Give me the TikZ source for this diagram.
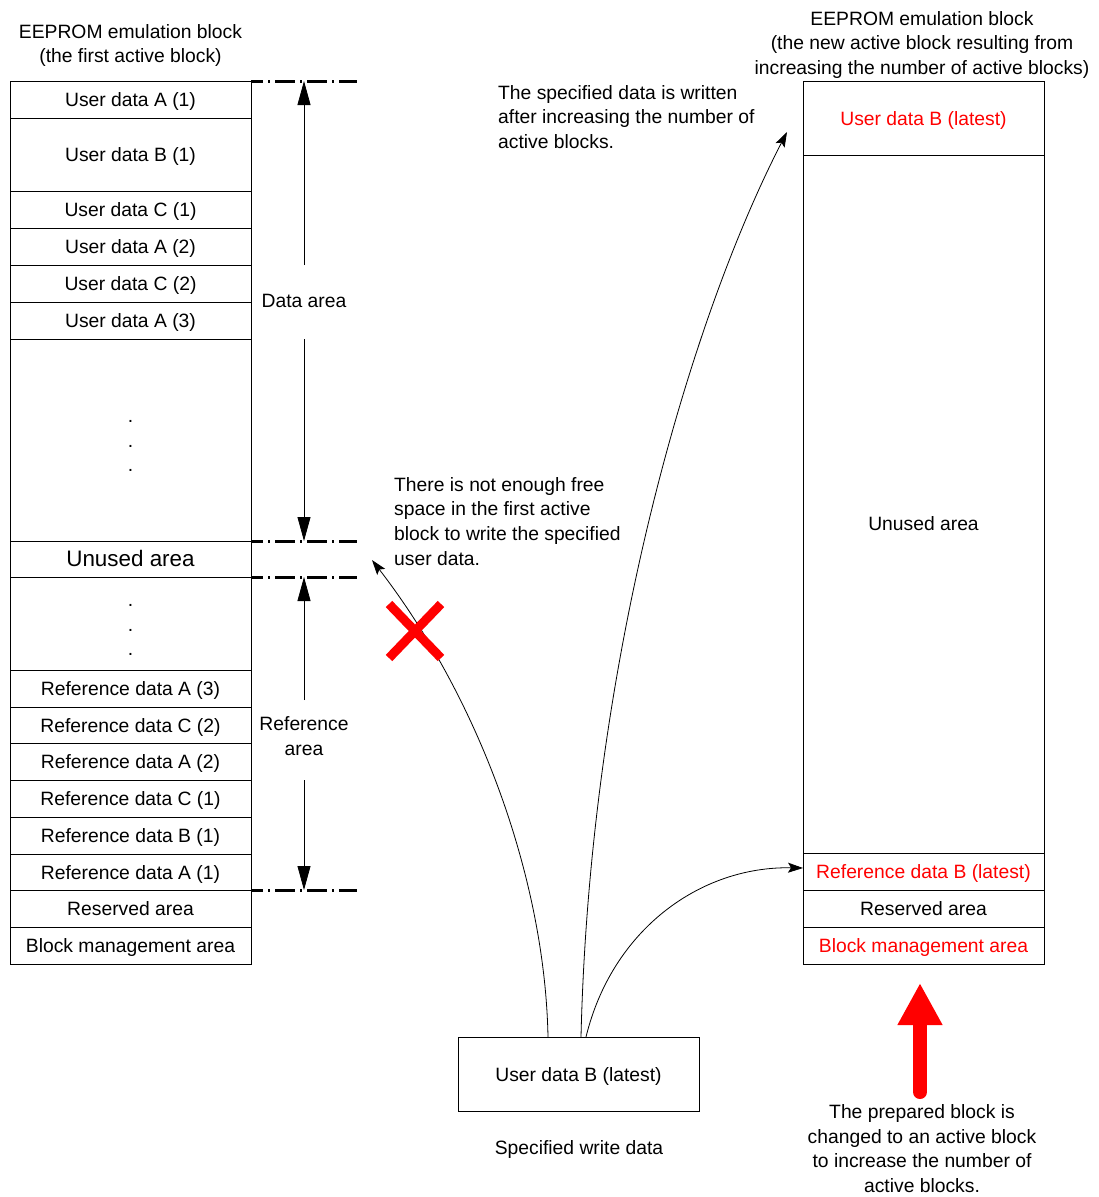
\documentclass[tikz,border=0pt]{standalone}
\usepackage{fontspec}
\setmainfont{Liberation Sans}
\usetikzlibrary{arrows.meta}
\definecolor{myred}{RGB}{255,0,0}
\begin{document}
\begin{tikzpicture}[x=1pt,y=-1pt,
  every node/.style={font=\fontsize{19.3}{24.8}\selectfont},
  cell/.style={draw, line width=0.9pt, minimum width=241pt, inner sep=0pt, anchor=center, text height=18pt, text depth=4pt},
  ddline/.style={line width=3pt, dash pattern=on 20pt off 5pt on 2pt off 5pt, dash phase=8pt},
  dimarrow/.style={line width=0.8pt, -{Triangle[length=24pt,width=13pt]}},
  curvearrow/.style={line width=0.8pt, -{Stealth[length=15pt,width=10pt,inset=3pt]}},
  note/.style={align=left, inner sep=0pt, anchor=north west},
  cnote/.style={align=center, inner sep=0pt, anchor=north}]
\useasboundingbox (0,0) rectangle (1099,1197);

% ---- left block
\node[cnote] (ltitle) at (130.5,24) {EEPROM emulation block\\(the first active block)};
\node[cell, minimum height=37pt] (la1) at (130.5,99.5) {User data A (1)};
\node[cell, minimum height=73pt] (lb1) at (130.5,154.5) {User data B (1)};
\node[cell, minimum height=37pt] (lc1) at (130.5,209.5) {User data C (1)};
\node[cell, minimum height=37pt] (la2) at (130.5,246.5) {User data A (2)};
\node[cell, minimum height=37pt] (lc2) at (130.5,283.5) {User data C (2)};
\node[cell, minimum height=37pt] (la3) at (130.5,320.5) {User data A (3)};
\node[cell, minimum height=202pt] (ldots1) at (130.5,440) {};
\node[align=center, inner sep=0pt] (ldt1) at (130.5,446) {.\\.\\.};
\node[cell, minimum height=36pt, font=\fontsize{22.4}{26}\selectfont] (lunused) at (130.5,559) {Unused area};
\node[cell, minimum height=93pt] (ldots2) at (130.5,623.5) {};
\node[align=center, inner sep=0pt] (ldt2) at (130.5,630) {.\\.\\.};
\node[cell, minimum height=37pt] (rfa3) at (130.5,688.5) {Reference data A (3)};
\node[cell, minimum height=36pt] (rfc2) at (130.5,725) {Reference data C (2)};
\node[cell, minimum height=37pt] (rfa2) at (130.5,761.5) {Reference data A (2)};
\node[cell, minimum height=37pt] (rfc1) at (130.5,798.5) {Reference data C (1)};
\node[cell, minimum height=37pt] (rfb1) at (130.5,835.5) {Reference data B (1)};
\node[cell, minimum height=36pt] (rfa1) at (130.5,872) {Reference data A (1)};
\node[cell, minimum height=37pt] (lres) at (130.5,908.5) {Reserved area};
\node[cell, minimum height=37pt] (lbm) at (130.5,945.5) {Block management area};

% dash-dot boundary lines
\coordinate (d1a) at (251,81);  \coordinate (d1b) at (357,81);
\coordinate (d2a) at (251,541); \coordinate (d2b) at (357,541);
\coordinate (d3a) at (251,577); \coordinate (d3b) at (357,577);
\coordinate (d4a) at (251,890); \coordinate (d4b) at (357,890);
\draw[ddline] (d1a) -- (d1b);
\draw[ddline] (d2a) -- (d2b);
\draw[ddline] (d3a) -- (d3b);
\draw[ddline] (d4a) -- (d4b);

% area labels and arrows
\node (dataarea) at (304,301) {Data area};
\node[align=center] (refarea) at (304,736) {Reference\\area};
\coordinate (v1) at (304,265); \coordinate (v1e) at (304,81);
\coordinate (v2) at (304,339); \coordinate (v2e) at (304,541);
\coordinate (v3) at (304,700); \coordinate (v3e) at (304,577);
\coordinate (v4) at (304,780); \coordinate (v4e) at (304,890);
\draw[dimarrow] (v1) -- (v1e);
\draw[dimarrow] (v2) -- (v2e);
\draw[dimarrow] (v3) -- (v3e);
\draw[dimarrow] (v4) -- (v4e);

% ---- right block
\node[cnote] (rtitle) at (922,11) {EEPROM emulation block\\(the new active block resulting from\\increasing the number of active blocks)};
\node[cell, minimum height=74pt, text=myred] (rub) at (923.5,118) {User data B (latest)};
\node[cell, minimum height=698pt] (runused) at (923.5,504) {};
\node (runusedtxt) at (923.5,524) {Unused area};
\node[cell, minimum height=37pt, text=myred] (rrefb) at (923.5,871.5) {Reference data B (latest)};
\node[cell, minimum height=37pt] (rres) at (923.5,908.5) {Reserved area};
\node[cell, minimum height=37pt, text=myred] (rbm) at (923.5,945.5) {Block management area};

% ---- specified write data
\node[draw, line width=0.9pt, minimum width=241pt, minimum height=74pt, inner sep=0pt, text height=18pt, text depth=4pt] (spec) at (578.5,1074) {User data B (latest)};
\node (spectxt) at (579,1149) {Specified write data};

% annotations
\node[note] (note1) at (498,85) {The specified data is written\\after increasing the number of\\active blocks.};
\node[note] (note2) at (394,477) {There is not enough free\\space in the first active\\block to write the specified\\user data.};
\node[cnote] (note3) at (922,1104) {The prepared block is\\changed to an active block\\to increase the number of\\active blocks.};

% curves
\coordinate (c1s) at (548,1037); \coordinate (c1e) at (372,560);
\coordinate (c2s) at (581,1037); \coordinate (c2e) at (787,132);
\coordinate (c3s) at (586,1037); \coordinate (c3e) at (803,868);
\draw[curvearrow] (c1s) .. controls (545,880) and (480,700) .. (c1e);
\draw[curvearrow] (c2s) .. controls (590,660) and (690,320) .. (c2e);
\draw[curvearrow] (c3s) .. controls (612,930) and (700,866) .. (c3e);

% red X
\coordinate (x1) at (389,604); \coordinate (x2) at (441,658);
\coordinate (x3) at (441,604); \coordinate (x4) at (389,658);
\draw[myred, line width=9pt] (x1) -- (x2);
\draw[myred, line width=9pt] (x3) -- (x4);

% red thick arrow
\coordinate (ra1) at (920,1092); \coordinate (ra2) at (920,983);
\draw[myred, line width=14pt, line cap=round, -{Triangle[length=42pt,width=42pt]}] (ra1) -- (ra2);
\end{tikzpicture}
\end{document}
